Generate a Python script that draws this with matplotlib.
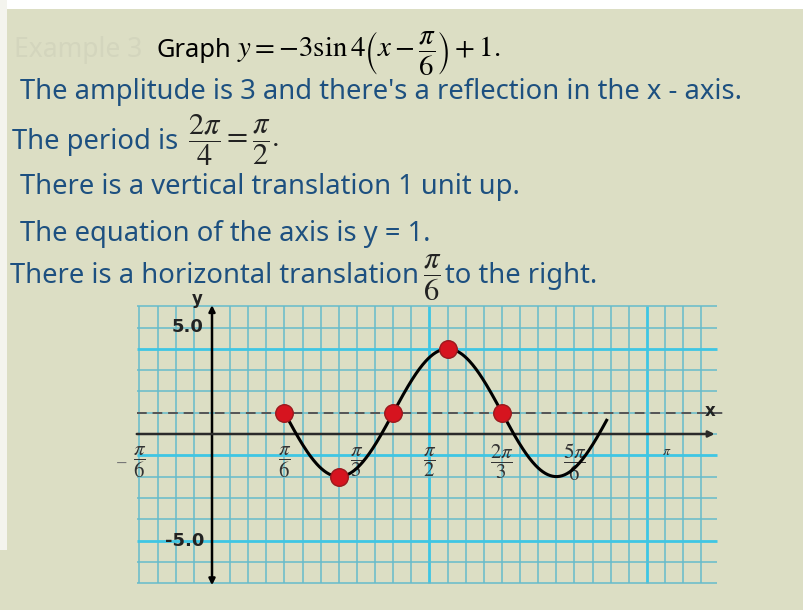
import numpy as np
import matplotlib
matplotlib.use("Agg")
import matplotlib.pyplot as plt

# ---------------- data ----------------
amplitude = -3.0          # y = a*sin(k(x - phase)) + shift
k_factor = 4.0
phase = np.pi / 6
shift = 1.0
curve_range = [np.pi / 6, 2.85]

key_x = [np.pi / 6, 7 * np.pi / 24, 5 * np.pi / 12, 13 * np.pi / 24, 2 * np.pi / 3]
key_y = [1, -2, 1, 4, 1]

tick_pos = [-np.pi / 6, np.pi / 6, np.pi / 3, np.pi / 2, 2 * np.pi / 3, 5 * np.pi / 6, np.pi]
tick_labels = [r'$\dfrac{\pi}{6}$', r'$\dfrac{\pi}{6}$', r'$\dfrac{\pi}{3}$', r'$\dfrac{\pi}{2}$',
               r'$\dfrac{2\pi}{3}$', r'$\dfrac{5\pi}{6}$', r'$\pi$']
ytick_pos = [5.0, -5.0]
ytick_labels = ['5.0', '-5.0']
axis_y = 1.0

title_word = 'Graph'
title_math = r'$y=-3\sin 4\left(x-\dfrac{\pi}{6}\right)+1.$'
lines = ["The amplitude is 3 and there's a reflection in the x - axis.",
         "The period is",
         "There is a vertical translation 1 unit up.",
         "The equation of the axis is y = 1.",
         "There is a horizontal translation",
         "to the right."]
period_math = r'$\dfrac{2\pi}{4}=\dfrac{\pi}{2}.$'
shift_math = r'$\dfrac{\pi}{6}$'

# ---------------- style ----------------
W, H, DPI = 804, 610, 100
BG = '#dcdec4'
BLUE = '#1d5080'
GRID = '#66bccb'
GRID_B = '#3ec6e4'
FONT = 'Noto Sans'
plt.rcParams['mathtext.fontset'] = 'stix'

fig = plt.figure(figsize=(W / DPI, H / DPI), dpi=DPI, facecolor=BG)
renderer = fig.canvas.get_renderer()

# white borders of the screenshot
fig.patches.append(plt.Rectangle((0, 1 - 9 / H), 1, 9 / H, transform=fig.transFigure,
                                 facecolor='white', edgecolor='none', zorder=0))
fig.patches.append(plt.Rectangle((0, 60 / H), 7 / W, 1 - 60 / H, transform=fig.transFigure,
                                 facecolor='#f4f4ee', edgecolor='none', zorder=0))


def put(x0, ybase, s, color, fs, family=FONT, **kw):
    return fig.text(x0 / W, 1 - ybase / H, s, color=color, fontsize=fs, family=family,
                    ha='left', va='baseline', **kw)


def fit_text(x0, x1, ybase, s, color, fs=18, family=FONT, **kw):
    t = put(x0, ybase, s, color, fs, family, **kw)
    bb = t.get_window_extent(renderer)
    t.set_fontsize(fs * (x1 - x0) / bb.width)
    return t


def right_px(t):
    return t.get_window_extent(renderer).x1


# faint ghost title
fit_text(14, 142, 57, 'Example 3', '#d3d5bd')
# title
fit_text(157, 232, 57, title_word, 'black')
tm = put(237, 57, title_math, 'black', 21)
bb = tm.get_window_extent(renderer)
tm.set_fontsize(21 * (500 - 237) / bb.width)

t0 = fit_text(20, 740, 99, lines[0], BLUE)
FS = t0.get_fontsize()
t = put(12, 149, lines[1], BLUE, FS)
put(right_px(t) + 10, 147, period_math, '#222222', 22)
put(20, 194, lines[2], BLUE, FS)
put(20, 241, lines[3], BLUE, FS)
t = put(10, 283, lines[4], BLUE, FS)
tf = put(right_px(t) + 4, 281, shift_math, '#222222', 22)
put(right_px(tf) + 4, 283, lines[5], BLUE, FS)

# ---------------- graph axes (pixel anchored) ----------------
ox, oy = 212.0, 434.0       # origin in pixels
px_x = 72.5 / (np.pi / 6)   # pixels per radian
px_y = 21.3                 # pixels per unit
xlim = (-0.62, 3.75)
ylim = (-7.4, 6.4)
l = ox + xlim[0] * px_x
r = ox + xlim[1] * px_x
tp = oy - ylim[1] * px_y
bt = oy - ylim[0] * px_y
ax = fig.add_axes([l / W, 1 - bt / H, (r - l) / W, (bt - tp) / H])
ax.set_xlim(*xlim)
ax.set_ylim(*ylim)
ax.set_axis_off()
ax.patch.set_alpha(0)

cell = np.pi / 24
gx0, gx1 = -4.15 * cell, 27.85 * cell
for j in range(-4, 28):
    bright = j in (12, 24)
    ax.plot([j * cell, j * cell], [-7, 6], color=GRID_B if bright else GRID,
            lw=2.0 if bright else 1.1, zorder=1, solid_capstyle='butt')
for i in range(-7, 7):
    bright = i in (4, -1, -5)
    ax.plot([gx0, gx1], [i, i], color=GRID_B if bright else GRID,
            lw=2.0 if bright else 1.1, zorder=1, solid_capstyle='butt')

# axis of the curve (dashed)
ax.plot([gx0, 3.69], [axis_y, axis_y], color='#555555', lw=1.4, dashes=(5, 3), zorder=2)

# axes
ax.annotate('', xy=(0, 6.05), xytext=(0, -7.1),
            arrowprops=dict(arrowstyle='<|-|>', color='black', lw=1.8, mutation_scale=9,
                            shrinkA=0, shrinkB=0), zorder=3)
ax.annotate('', xy=(3.63, 0), xytext=(gx0, 0),
            arrowprops=dict(arrowstyle='-|>', color='#2a2a2a', lw=1.8, mutation_scale=9,
                            shrinkA=0, shrinkB=0), zorder=3)

# tick labels
for p, lab in zip(tick_pos, tick_labels):
    last = (p == tick_pos[-1])
    ax.annotate(lab, xy=(p, 0), xytext=(20 if last else 0, -17 if last else -28),
                textcoords='offset pixels', ha='center', va='center', fontsize=10 if last else 15,
                color='#333333', zorder=2)
ax.annotate(r'$-$', xy=(tick_pos[0], 0), xytext=(-12, -27), textcoords='offset pixels',
            ha='right', va='center', fontsize=12, color='#777777', zorder=2)
for p, lab in zip(ytick_pos, ytick_labels):
    ax.annotate(lab, xy=(0, p), xytext=(-8, 0), textcoords='offset pixels', ha='right',
                va='center', fontsize=13, fontweight='semibold', color='#222222', family='DejaVu Sans',
                zorder=2)
ax.annotate('y', xy=(0, 6.05), xytext=(-15, 6), textcoords='offset pixels', ha='center',
            va='center', fontsize=12, fontweight='bold', color='#222222')
ax.annotate('x', xy=(3.63, axis_y), xytext=(-5, 2), textcoords='offset pixels', ha='center',
            va='center', fontsize=12, fontweight='bold', color='#222222')

# curve and points
xs = np.linspace(curve_range[0], curve_range[1], 400)
ys = amplitude * np.sin(k_factor * (xs - phase)) + shift
ax.plot(xs, ys, color='black', lw=2.2, zorder=4)
ax.scatter(key_x, key_y, s=160, color='#d6141f', edgecolors='#9a1a1e', linewidths=1.0, zorder=5)

fig.savefig('out.png', dpi=DPI, facecolor=BG)
